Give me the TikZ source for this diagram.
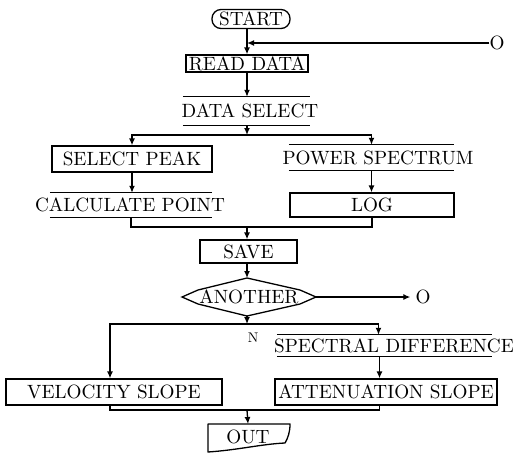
\documentclass[tikz,border=0pt]{standalone}
\usetikzlibrary{arrows.meta}
\newcommand\txt[1]{\scalebox{1.92}{\fontsize{10}{12}\selectfont #1}}
\newcommand\smalltxt[1]{\scalebox{1.4}{\fontsize{10}{12}\selectfont #1}}
\begin{document}
\begin{tikzpicture}[x=1pt,y=-1pt,
  every node/.style={inner sep=0pt},
  ln/.style={line width=1.3pt},
  arr/.style={line width=1.3pt,-{Latex[length=7pt,width=6pt]}},
  boxstyle/.style={draw,line width=1.3pt}]
\useasboundingbox (0,0) rectangle (513,455);

% top
\node[boxstyle, rounded corners=9pt, minimum width=78pt, minimum height=19pt] (start) at (251,19) {\txt{START}};
\node[boxstyle, minimum width=122pt, minimum height=17pt] (read) at (247,63.5) {\txt{READ DATA}};
\coordinate (j1) at (247,43);
\node (O1) at (497,43) {\txt{O}};
\draw[arr] (start.south -| read.north) -- (read.north);
\draw[arr] (O1.west) -- (j1);

% data select (open)
\node[minimum width=127pt, minimum height=28pt] (ds) at (246.5,111) {};
\node (dst) at (250,111) {\txt{DATA SELECT}};
\draw[ln] (ds.north west) -- (ds.north east) (ds.south west) -- (ds.south east);
\draw[arr] (read.south) -- (read.south |- ds.north);

% branch 1
\coordinate (b1) at (247,135);
\draw[arr] (ds.south -| b1) -- (b1);
\node[boxstyle, minimum width=160pt, minimum height=26pt] (sp) at (132,159) {\txt{SELECT PEAK}};
\node[minimum width=165pt, minimum height=25pt] (ps) at (371.5,157.5) {};
\node (pst) at (378,158) {\txt{POWER SPECTRUM}};
\draw[ln] (ps.north west) -- (ps.north east) (ps.south west) -- (ps.south east);
\draw[arr] (b1) -| (sp.north);
\draw[arr] (b1) -| (ps.north);

% second row
\node[minimum width=162pt, minimum height=24pt] (cp) at (131,205) {};
\node (cpt) at (130,205) {\txt{CALCULATE POINT}};
\draw[ln] (cp.north west) -- (cp.north east) (cp.south west) -- (cp.south east);
\node[boxstyle, minimum width=164pt, minimum height=24pt] (log) at (372,205) {\txt{LOG}};
\draw[arr] (sp.south) -- (sp.south |- cp.north);
\draw[arr] (ps.south) -- (ps.south |- log.north);

% merge 1
\coordinate (m1) at (247,227);
\draw[ln] (cp.south) |- (m1) -| (log.south);
\node[boxstyle, minimum width=97pt, minimum height=23pt] (save) at (248.5,251.5) {\txt{SAVE}};
\draw[arr] (m1) -- (m1 |- save.north);

% decision
\coordinate (anW) at (182,297);
\coordinate (anN) at (247,278);
\coordinate (anE) at (316,297);
\coordinate (anS) at (247,316);
\draw[ln, line join=miter] (anW) -- (198,290) -- (anN) -- (300,290) -- (anE) -- (300,304) -- (anS) -- (198,304) -- cycle;
\node (another) at (249,297) {\txt{ANOTHER}};
\draw[arr] (save.south -| anN) -- (anN);
\node (O2) at (423,297) {\txt{O}};
\draw[arr, shorten >=5pt] (anE) -- (O2.west);

% branch 2
\coordinate (b2) at (247,324);
\draw[arr] (anS) -- (b2);
\node (N) at (253,338) {\smalltxt{N}};
\node[minimum width=215pt, minimum height=21pt] (sd) at (384.5,345.5) {};
\node (sdt) at (394,346) {\txt{SPECTRAL DIFFERENCE}};
\draw[ln] (sd.north west) -- (sd.north east) (sd.south west) -- (sd.south east);
\node[boxstyle, minimum width=216pt, minimum height=26pt] (vel) at (114,392) {\txt{VELOCITY SLOPE}};
\node[boxstyle, minimum width=222pt, minimum height=26pt] (att) at (386,392) {\txt{ATTENUATION SLOPE}};
\draw[arr] (b2) -| ([xshift=-4pt]vel.north);
\draw[arr] (b2) -| ([xshift=-6pt]sd.north);
\draw[arr] ([xshift=-5pt]sd.south) -- ([xshift=-6.5pt]att.north);

% merge 2
\coordinate (m2) at (247,410);
\draw[ln] ([xshift=-4pt]vel.south) |- (m2) -| ([xshift=-6.5pt]att.south);
\coordinate (outtop) at (248,424);
\draw[arr] (m2) -- (outtop);
\draw[ln, line join=round] (208,424) -- (290,424) .. controls (290,432) and (288,438) .. (285,443) .. controls (262,444) and (238,450) .. (208,452) -- cycle;
\node (out) at (248,437) {\txt{OUT}};
\end{tikzpicture}
\end{document}
